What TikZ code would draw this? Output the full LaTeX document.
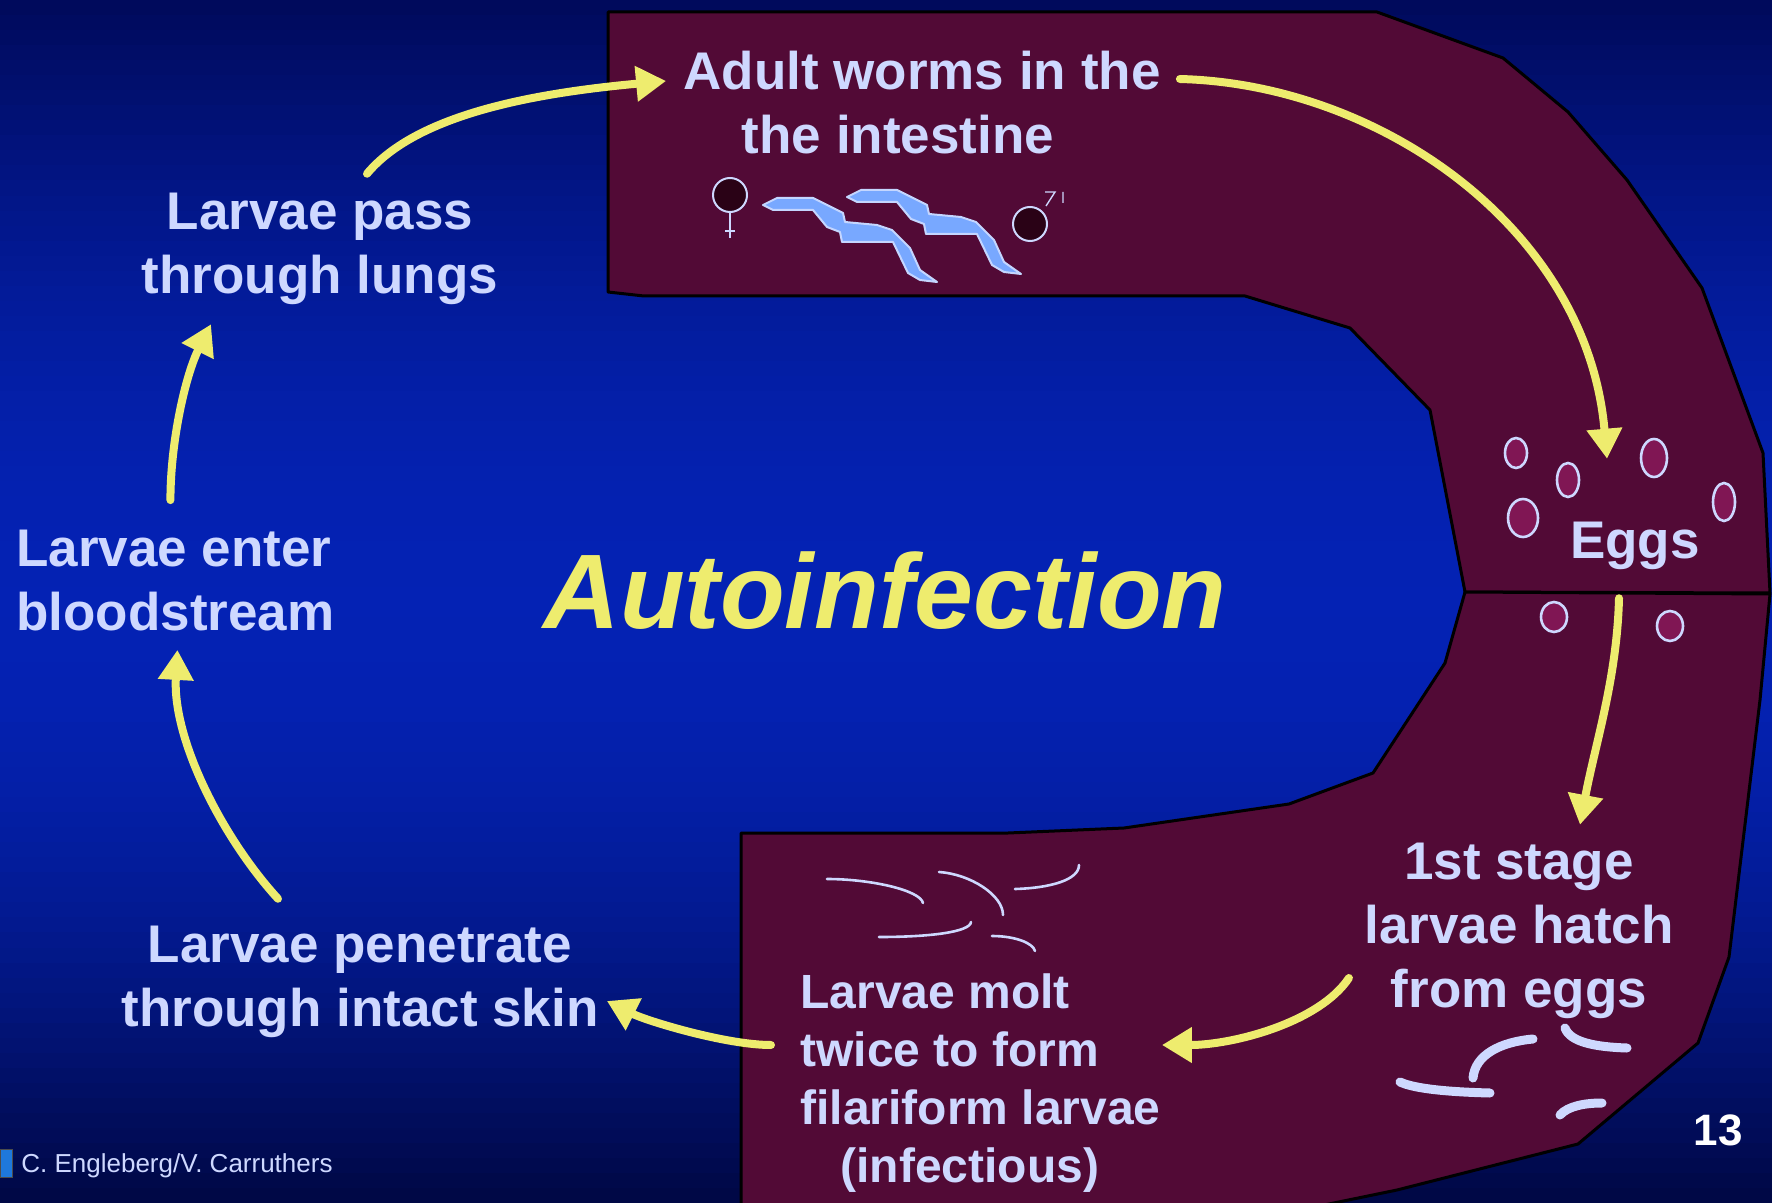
\documentclass[tikz,border=0pt]{standalone}
\usepackage{fontspec}
\setmainfont{Liberation Sans}
\usepackage{xcolor}
\usepackage{tikz}
\usetikzlibrary{arrows.meta}
\usetikzlibrary{calc}
\usetikzlibrary{positioning}

\definecolor{bgtop}{RGB}{0,10,92}
\definecolor{bgmid}{RGB}{4,34,180}
\definecolor{bgbot}{RGB}{0,8,70}
\definecolor{gut}{RGB}{82,10,54}
\definecolor{eggfill}{RGB}{128,22,84}
\definecolor{pale}{RGB}{206,216,255}
\definecolor{arrowyellow}{RGB}{238,236,110}
\definecolor{wormblue}{RGB}{120,168,255}
\definecolor{wormedge}{RGB}{196,214,255}
\definecolor{sexdot}{RGB}{42,2,22}
\definecolor{iconblue}{RGB}{30,120,220}

\begin{document}
\begin{tikzpicture}[x=0.5pt,y=-0.5pt,>={Triangle[length=15pt,width=17pt]},
  cycle arrow/.style={->,draw=arrowyellow,line width=4pt,line cap=round},
  stage node/.style={inner sep=0pt,text=pale,align=center,
    font=\fontsize{26.5}{32}\selectfont\bfseries},
  egg/.style={draw=pale,fill=eggfill,line width=1.3pt},
  gut wall/.style={fill=gut,draw=black,line width=1.5pt,line join=round},
  worm/.style={fill=wormblue,draw=wormedge,line width=1pt,line join=round},
  larva/.style={draw=pale,line cap=round}]

  \useasboundingbox (0,0) rectangle (1772,1203);
  % background, dark at the edges and bright blue in the middle
  \foreach \i in {0,...,39}{
    \pgfmathtruncatemacro{\p}{100*sin(90*\i/39)}
    \fill[bgmid!\p!bgtop] (0,\i*15.04) rectangle (1772,\i*15.04+17);
  }
  \foreach \i in {40,...,79}{
    \pgfmathtruncatemacro{\p}{100*sin(90*(79-\i)/39)}
    \fill[bgmid!\p!bgbot] (0,\i*15.04) rectangle (1772,\i*15.04+17);
  }

  % the gut, upper and lower part
  \draw[gut wall] (608,12) -- (1377,12) -- (1503,58) -- (1568,112) -- (1627,180)
    -- (1702,288) -- (1763,453) -- (1770,593) -- (1465,592) -- (1430,410)
    -- (1350,328) -- (1245,296) -- (644,296) -- (608,292) -- cycle;
  \draw[gut wall] (1465,592) -- (1770,594) -- (1760,700) -- (1729,957) -- (1698,1043)
    -- (1578,1144) -- (1397,1190) -- (1290,1212) -- (741,1212) -- (741,833)
    -- (1008,833) -- (1124,828) -- (1289,804) -- (1373,773) -- (1445,663) -- cycle;

  % adult worms
  \foreach \dx/\dy in {0/0,84/-8}
    \draw[worm,shift={(\dx,\dy)}] (763,205) -- (777,198) -- (813,198) -- (843,213)
      -- (845,222) -- (877,225) -- (892,230) -- (910,248) -- (920,270) -- (937,282)
      -- (920,280) -- (908,273) -- (893,242) -- (842,242) -- (840,232) -- (827,227)
      -- (813,210) -- (773,210) -- cycle;
  \draw[draw=pale,fill=sexdot,line width=1pt] (730,195) circle [radius=8.5pt];
  \draw[pale,line width=0.7pt] (730,213) -- (730,238) (725,231) -- (735,231);
  \draw[draw=pale,fill=sexdot,line width=1pt] (1030,224) circle [radius=8.5pt];
  \draw[pale,line width=0.7pt] (1045,192) -- (1055,192) -- (1046,206) (1063,192) -- (1063,203);

  % eggs
  \foreach \x/\y/\rx/\ry in {1516/453/5.5pt/7.5pt, 1568/480/5.5pt/8.5pt,
      1523/518/7.5pt/9.5pt, 1654/458/6.5pt/9.5pt, 1724/502/5.5pt/9.5pt,
      1554/617/6.5pt/7.5pt, 1670/626/6.5pt/7.5pt}
    \draw[egg] (\x,\y) ellipse [x radius=\rx, y radius=\ry];

  % hatched larvae
  \draw[larva,line width=4.5pt] (1400,1082) .. controls (1415,1089) and (1450,1092) .. (1490,1093);
  \draw[larva,line width=4.5pt] (1473,1078) .. controls (1475,1055) and (1500,1042) .. (1533,1039);
  \draw[larva,line width=4.5pt] (1565,1028) .. controls (1570,1042) and (1595,1047) .. (1627,1048);
  \draw[larva,line width=4.5pt] (1560,1115) .. controls (1568,1106) and (1585,1103) .. (1602,1103);

  % molting larvae
  \draw[larva,line width=1.3pt] (827,879) .. controls (870,879) and (920,890) .. (923,903);
  \draw[larva,line width=1.3pt] (939,872) .. controls (970,874) and (1003,895) .. (1003,915);
  \draw[larva,line width=1.3pt] (1015,889) .. controls (1050,888) and (1079,880) .. (1079,865);
  \draw[larva,line width=1.3pt] (879,937) .. controls (930,937) and (970,932) .. (971,922);
  \draw[larva,line width=1.3pt] (992,936) .. controls (1015,936) and (1033,943) .. (1035,951);

  % stages
  \node[stage node] (1) at (922,103) {Adult worms in the\\the intestine\hspace*{24pt}};
  \node[stage node] (2) at (1635,546) {Eggs};
  \node[stage node] (3) at (1519,931) {1st stage\\larvae hatch\\from eggs};
  \node[stage node,align=left,anchor=west,font=\fontsize{24}{29}\selectfont\bfseries]
    (4) at (800,1083) {Larvae molt\\twice to form\\filariform larvae\\\hspace*{20pt}(infectious)};
  \node[stage node] (5) at (360,982) {Larvae penetrate\\through intact skin};
  \node[stage node,align=left,anchor=west] (6) at (16,581) {Larvae enter\\bloodstream};
  \node[stage node] (7) at (320,249) {Larvae pass\\through lungs};

  \node[inner sep=0pt,text=arrowyellow,font=\fontsize{53}{60}\selectfont\bfseries\itshape]
    (title) at (885,591) {Autoinfection};

  % the cycle
  \draw[cycle arrow] ($(7.north)+(47,-19)$) .. controls +(50,-60) and +(-130,12) .. ($(1.west)+(-17,-22)$);
  \draw[cycle arrow] ($(1.east)+(19,-24)$) .. controls +(200,5) and +(-20,-230) .. ($(2.north)+(-28,-63)$);
  \draw[cycle arrow] ($(2.south)+(-16,28)$) .. controls +(-2,80) and +(15,-80) .. ($(3.north)+(61,-18)$);
  \draw[cycle arrow] ($(3.west)+(-15,47)$) .. controls +(-30,45) and +(70,0) .. ($(4.east)+(1,-38)$);
  \draw[cycle arrow] ($(4.west)+(-29,-38)$) .. controls +(-45,0) and +(40,20) .. ($(5.east)+(8,19)$);
  \draw[cycle arrow] ($(5.north)+(-82,-27)$) .. controls +(-55,-60) and +(-5,90) .. ($(6.south)+(2,18)$);
  \draw[cycle arrow] ($(6.north)+(-5,-30)$) .. controls +(0,-60) and +(-25,50) .. ($(7.south)+(-109,19)$);

  % footer
  \draw[draw=black!70,fill=iconblue] (0,1149) rectangle (12,1177);
  \node[inner sep=0pt,anchor=west,text=pale,font=\fontsize{13}{15}\selectfont]
    (credit) at (21,1166) {C. Engleberg/V. Carruthers};
  \node[inner sep=0pt,text=white,font=\fontsize{22}{26}\selectfont\bfseries] (page) at (1718,1130) {13};
\end{tikzpicture}
\end{document}
